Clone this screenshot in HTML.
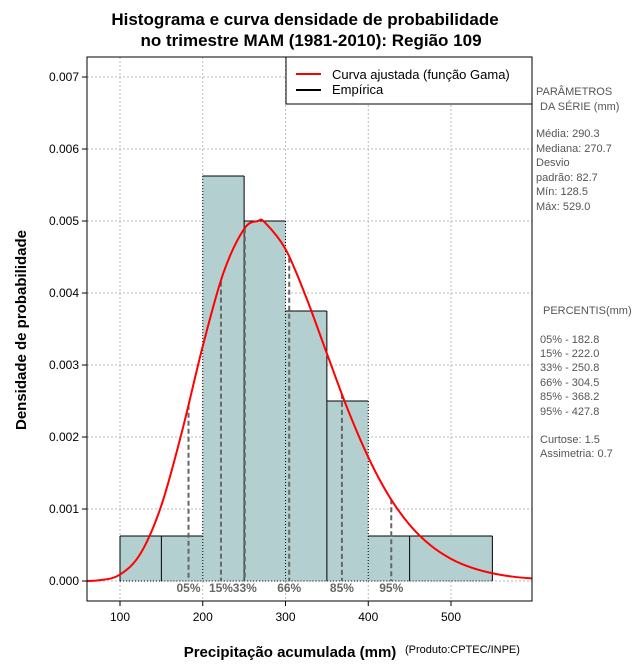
<!DOCTYPE html>
<html><head><meta charset="utf-8"><style>
body{margin:0;background:#fff;font-family:"Liberation Sans",sans-serif}
svg text{font-family:"Liberation Sans",sans-serif}
</style></head><body>
<svg id="chart" width="640" height="660" viewBox="0 0 640 660" xmlns="http://www.w3.org/2000/svg">
<defs><clipPath id="plotclip"><rect x="87" y="57" width="445" height="544"/></clipPath></defs>
<g id="grid"></g>
<g id="bars"></g>
<g id="pct"></g>
<g id="curve" clip-path="url(#plotclip)"></g>
<g id="axes"></g>
<text x="305" y="25" text-anchor="middle" font-size="17" font-weight="bold">Histograma e curva densidade de probabilidade</text>
<text x="311" y="46" text-anchor="middle" font-size="17" font-weight="bold">no trimestre MAM (1981-2010): Região 109</text>
<text x="290" y="657" text-anchor="middle" font-size="15" font-weight="bold">Precipitação acumulada (mm)</text>
<text x="405" y="653" font-size="11">(Produto:CPTEC/INPE)</text>
<text transform="translate(26,330) rotate(-90)" text-anchor="middle" font-size="15" font-weight="bold">Densidade de probabilidade</text>
<g>
<rect x="286" y="57" width="246" height="47" fill="#fff" stroke="#000"/>
<line x1="296" y1="74" x2="321" y2="74" stroke="#f00" stroke-width="2"/>
<text x="332" y="79" font-size="13">Curva ajustada (função Gama)</text>
<line x1="296" y1="90" x2="321" y2="90" stroke="#000" stroke-width="2"/>
<text x="332" y="94" font-size="13">Empírica</text>
</g>
<g font-size="11" fill="#555">
<text x="536" y="95">PARÂMETROS</text>
<text x="540" y="110">DA SÉRIE (mm)</text>
<text x="536" y="137">Média:  290.3</text>
<text x="536" y="152">Mediana:  270.7</text>
<text x="536" y="166">Desvio</text>
<text x="536" y="181">padrão:  82.7</text>
<text x="536" y="195">Mín:  128.5</text>
<text x="536" y="210">Máx:  529.0</text>
<text x="543" y="314">PERCENTIS(mm)</text>
<text x="540" y="343">05% -  182.8</text>
<text x="540" y="357">15% -  222.0</text>
<text x="540" y="371">33% -  250.8</text>
<text x="540" y="386">66% -  304.5</text>
<text x="540" y="400">85% -  368.2</text>
<text x="540" y="415">95% -  427.8</text>
<text x="540" y="443">Curtose:  1.5</text>
<text x="540" y="457">Assimetria:  0.7</text>
</g>
</svg>
<script>
const binEdges=[100,150,200,250,300,350,400,450,550];
const binDensity=[0.000625,0.000625,0.005625,0.005,0.00375,0.0025,0.000625,0.000625];
const curveX=[50,75,100,125,150,175,200,225,250,266.7,275,300,325,350,375,400,425,450,475,500,525,550,575,600];
const curveY=[0.0000003,0.00001,0.000089,0.000385,0.00105,0.00208,0.00326,0.00428,0.00489,0.005,0.00498,0.00461,0.00394,0.00316,0.00239,0.00172,0.00118,0.00078,0.000498,0.000308,0.000185,0.000108,0.00006,0.000034];
const pctNames=["05%","15%","33%","66%","85%","95%"];
const pctValues=[182.8,222.0,250.8,304.5,368.2,427.8];
const xTicks=[100,200,300,400,500];
const yTicks=[0,0.001,0.002,0.003,0.004,0.005,0.006,0.007];
const L=87,R=532,T=57,B=601;
const sx=v=>120+(v-100)*0.8275;
const sy=v=>581-v*72000;
const NS="http://www.w3.org/2000/svg";
function mk(p,tag,a){const e=document.createElementNS(NS,tag);for(const k in a)e.setAttribute(k,a[k]);p.appendChild(e);return e;}
const grid=document.getElementById('grid');
xTicks.forEach(t=>{const e=mk(grid,'line',{x1:sx(t),x2:sx(t),y1:T,y2:B,stroke:'#bbb','stroke-dasharray':'2,2'});

});
yTicks.forEach(t=>{const e=mk(grid,'line',{x1:L,x2:R,y1:sy(t),y2:sy(t),stroke:'#bbb','stroke-dasharray':'2,2'});

});
const bars=document.getElementById('bars');
for(let i=0;i<binDensity.length;i++){
 const x0=sx(binEdges[i]),x1=sx(binEdges[i+1]),y=sy(binDensity[i]);
 const r=mk(bars,'rect',{x:x0,y:y,width:x1-x0,height:sy(0)-y,fill:'#b4cfcf'});
 
 
 mk(bars,'line',{x1:x0,x2:x1,y1:y,y2:y,stroke:'#000'});
 mk(bars,'line',{x1:x0,x2:x1,y1:sy(0),y2:sy(0),stroke:'#000','stroke-dasharray':'1,2'});
}
binEdges.forEach((e,i)=>{
 const top=Math.max(i>0?binDensity[i-1]:0,i<binDensity.length?binDensity[i]:0);
 const dotted=(e===200||e===300||e===400);
 const a={x1:sx(e),x2:sx(e),y1:sy(top),y2:sy(0),stroke:'#000'};
 if(dotted)a['stroke-dasharray']='1,2';
 mk(bars,'line',a);
});
function curveAt(v){for(let i=0;i<curveX.length-1;i++){if(v>=curveX[i]&&v<=curveX[i+1]){const t=(v-curveX[i])/(curveX[i+1]-curveX[i]);return curveY[i]+t*(curveY[i+1]-curveY[i]);}}return 0;}
const pct=document.getElementById('pct');
pctValues.forEach((v,i)=>{
 const l=mk(pct,'line',{x1:sx(v),x2:sx(v),y1:sy(curveAt(v)),y2:sy(0),stroke:'#666','stroke-width':2,'stroke-dasharray':'5,3'});
 
 
 const t=mk(pct,'text',{x:sx(v),y:592,'text-anchor':'middle','font-size':12,'font-weight':'bold',fill:'#666','font-family':'"Liberation Serif",serif'});
 t.textContent=pctNames[i];
 
 
});
const pts=curveX.map((x,i)=>[sx(x),sy(curveY[i])]);
let d='M'+pts[0][0]+','+pts[0][1];
for(let i=0;i<pts.length-1;i++){
 const p0=pts[Math.max(0,i-1)],p1=pts[i],p2=pts[i+1],p3=pts[Math.min(pts.length-1,i+2)];
 const c1=[p1[0]+(p2[0]-p0[0])/6,p1[1]+(p2[1]-p0[1])/6];
 const c2=[p2[0]-(p3[0]-p1[0])/6,p2[1]-(p3[1]-p1[1])/6];
 d+=' C'+c1[0]+','+c1[1]+' '+c2[0]+','+c2[1]+' '+p2[0]+','+p2[1];
}
const cg=document.getElementById('curve');
const cp=mk(cg,'path',{d:d,fill:'none',stroke:'#f00','stroke-width':2});


const ax=document.getElementById('axes');
mk(ax,'rect',{x:L,y:T,width:R-L,height:B-T,fill:'none',stroke:'#000'});
xTicks.forEach(t=>{mk(ax,'line',{x1:sx(t),x2:sx(t),y1:B,y2:B+5,stroke:'#000'});
 const e=mk(ax,'text',{x:sx(t),y:B+20,'text-anchor':'middle','font-size':12});e.textContent=t;
 
 });
yTicks.forEach(t=>{mk(ax,'line',{x1:L-5,x2:L,y1:sy(t),y2:sy(t),stroke:'#000'});
 const e=mk(ax,'text',{x:L-8,y:sy(t)+4,'text-anchor':'end','font-size':12});e.textContent=t.toFixed(3);
 
 });
</script>
</body></html>
